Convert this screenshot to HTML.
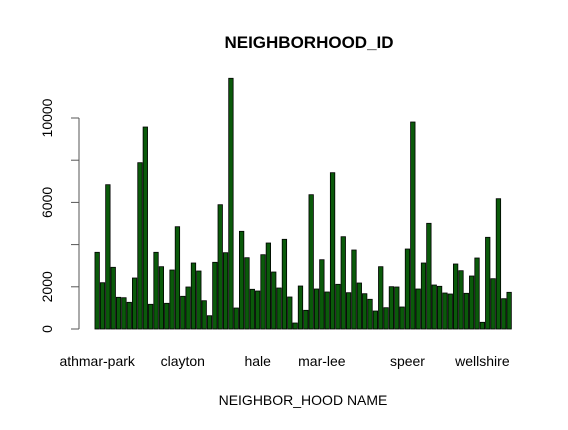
<!DOCTYPE html>
<html><head><meta charset="utf-8"><style>
body{margin:0;background:#fff;}
svg{display:block;font-family:"Liberation Sans",Arial,sans-serif;}
</style></head><body>
<svg id="chart" width="568" height="430">
<text x="309" y="48" text-anchor="middle" font-size="17" font-weight="bold">NEIGHBORHOOD_ID</text>
<text x="303" y="405" text-anchor="middle" font-size="14">NEIGHBOR_HOOD NAME</text>
<g id="yaxis"></g>
<g id="bars"></g>
<g id="xlabels"></g>
</svg>
<script>
const values=[3635,2194,6839,2924,1502,1483,1265,2417,7882,9573,1171,3635,2953,1218,2796,4848,1550,1991,3128,2749,1341,630,3161,5891,3616,11882,995,4630,3379,1882,1801,3521,4076,2701,1943,4251,1517,284,2038,886,6365,1896,3284,1754,7408,2118,4374,1720,3744,2180,1673,1408,853,2953,1009,2005,1991,1043,3791,9810,1896,3128,5009,2085,2024,1706,1659,3081,2763,1692,2512,3365,318,4346,2384,6175,1436,1739];
const labelIdx=[0,16,30,42,58,72];
const labelText=["athmar-park","clayton","hale","mar-lee","speer","wellshire"];
const yTicks=[0,2000,4000,6000,8000,10000];
const yTickLabels=["0","2000","","6000","","10000"];
const NS="http://www.w3.org/2000/svg";
const x0=94.5,slot=5.35,bw=4.45;
const y=v=>329-v*0.0211;
const xc=i=>x0+slot*i+slot/2;
function mk(t,a,p){const e=document.createElementNS(NS,t);for(const k in a)e.setAttribute(k,a[k]);p.appendChild(e);return e;}
const bars=document.getElementById('bars');
values.forEach((v,i)=>{
 const r=mk('rect',{x:xc(i)-bw/2,y:y(v),width:bw,height:329-y(v),fill:'#0a5a0a',stroke:'#000','stroke-width':0.8},bars);
 
 
});
const ya=document.getElementById('yaxis');
mk('line',{x1:79,x2:79,y1:y(0),y2:y(10000),stroke:'#555'},ya);
yTicks.forEach((t,i)=>{
 mk('line',{x1:71,x2:79,y1:y(t),y2:y(t),stroke:'#555'},ya);
 if(yTickLabels[i]){
  const tx=mk('text',{x:0,y:0,'font-size':14,'text-anchor':'middle',transform:`translate(52,${y(t)}) rotate(-90)`},ya);
  tx.textContent=yTickLabels[i];
  
  
 }
});
const xl=document.getElementById('xlabels');
labelIdx.forEach((idx,k)=>{
 const tx=mk('text',{x:xc(idx),y:366,'font-size':14,'text-anchor':'middle'},xl);
 tx.textContent=labelText[k];
 
 
});
</script>
</body></html>
